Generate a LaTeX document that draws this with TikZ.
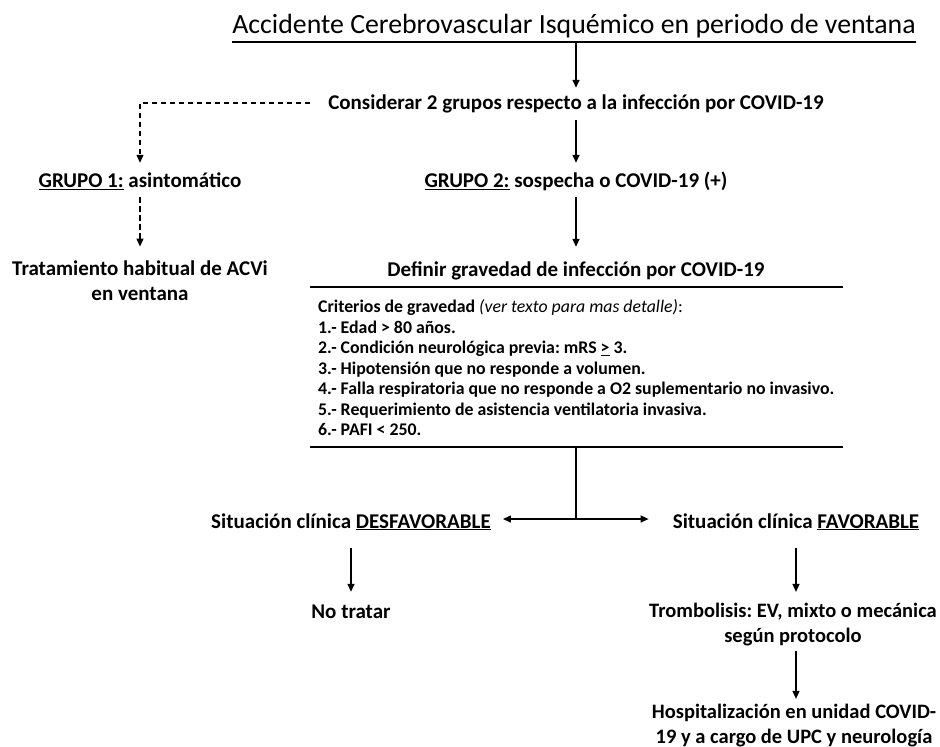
\documentclass[tikz,border=0pt]{standalone}
\usepackage{fontspec}
\setmainfont{Carlito}
\usetikzlibrary{arrows.meta}
\frenchspacing
\tikzset{
  body/.style={font=\bfseries\fontsize{21}{24.5}\selectfont, align=center, inner sep=0pt, anchor=base},
  one/.style={body, text height=15pt, text depth=5pt},
  two/.style={body, font=\bfseries\fontsize{20.5}{24.5}\selectfont},
  titletxt/.style={font=\fontsize{27.8}{32}\selectfont, inner sep=0pt, anchor=base},
  crit/.style={font=\bfseries\fontsize{17.8}{20.5}\selectfont, align=left, inner sep=0pt, anchor=base west},
  arr/.style={-{Triangle[length=8pt,width=7pt]}, line width=1.4pt},
  darr/.style={-{Triangle[length=8pt,width=7pt]}, line width=1.2pt, dash pattern=on 5.5pt off 3.5pt},
  rule/.style={line width=1.6pt}
}
\begin{document}
\begin{tikzpicture}[x=1pt,y=-1pt]
\useasboundingbox (0,0) rectangle (940,747);
% nodes
\node[titletxt] (title) at (574,33) {Accidente Cerebrovascular Isquémico en periodo de ventana};
\coordinate (tl) at (232,42);
\coordinate (tr) at (916,42);
\coordinate (tm) at (576,42);
\node[one] (cons) at (576,109.5) {Considerar 2 grupos respecto a la infección por COVID-19};
\node[one] (g1) at (140,187.5) {\underline{GRUPO 1:} asintomático};
\node[one] (g2) at (576,187.5) {\underline{GRUPO 2:} sospecha o COVID-19 (+)};
\node[body] (trat) at (140,300) {Tratamiento habitual de ACVi\\en ventana};
\node[one] (def) at (576,276) {Definir gravedad de infección por COVID-19};
\coordinate (l1a) at (310,287);
\coordinate (l1b) at (843,287);
\node[crit] (crit) at (318,435.5) {Criterios de gravedad \textit{\mdseries(ver texto para mas detalle)}{\mdseries:}\\
1.- Edad > 80 años.\\
2.- Condición neurológica previa: mRS \underline{>} 3.\\
3.- Hipotensión que no responde a volumen.\\
4.- Falla respiratoria que no responde a O2 suplementario no invasivo.\\
5.- Requerimiento de asistencia ventilatoria invasiva.\\
6.- PAFI < 250.};
\coordinate (l2a) at (310,447);
\coordinate (l2b) at (843,447);
\coordinate (l2m) at (576,447);
\coordinate (junc) at (576,519);
\node[one] (desf) at (351,528) {Situación clínica \underline{DESFAVORABLE}};
\node[one] (fav) at (796,528) {Situación clínica \underline{FAVORABLE}};
\node[one] (notr) at (351,618) {No tratar};
\node[two] (trom) at (793,642) {Trombolisis: EV, mixto o mecánica\\según protocolo};
\node[two] (hosp) at (794,743) {Hospitalización en unidad COVID-\\19 y a cargo de UPC y neurología};
\coordinate (dE) at ([xshift=12pt]desf.east);
\coordinate (fW) at ([xshift=-24pt]fav.west);
% rules
\draw[rule] (tl) -- (tr);
\draw[rule] (l1a) -- (l1b);
\draw[rule] (l2a) -- (l2b);
% connectors
\draw[arr] (tm) -- ([yshift=6.5pt]cons.north);
\draw[darr] ([xshift=-18pt,yshift=1.5pt]cons.west) -| ([yshift=9.5pt]g1.north);
\draw[arr] ([yshift=-5.5pt]cons.south) -- ([yshift=9.5pt]g2.north);
\draw[darr] ([yshift=-4.5pt]g1.south) -- ([yshift=14pt]trat.north);
\draw[arr] ([yshift=-4.5pt]g2.south) -- ([yshift=14pt]def.north);
\draw[line width=1.4pt] (l2m) -- (junc);
\draw[arr] (junc) -- (junc -| dE);
\draw[arr] (junc) -- (junc -| fW);
\draw[arr] ([yshift=-15pt]desf.south) -- ([yshift=11pt]notr.north);
\draw[arr] ([yshift=-15pt]fav.south) -- ([yshift=11pt]fav.south |- trom.north);
\draw[arr] ([yshift=-5pt]trom.south -| fav.south) -- ([yshift=5pt]hosp.north -| fav.south);
\end{tikzpicture}
\end{document}
